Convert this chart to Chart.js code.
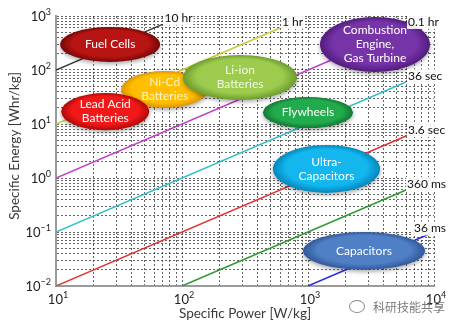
<!DOCTYPE html>
<html>
<head>
<meta charset="utf-8">
<script src="https://cdn.jsdelivr.net/npm/chart.js@4"></script>
<style>
  body { margin: 0; background: #fff; }
  #wrap { position: relative; width: 455px; height: 326px; }
  #mark { position: absolute; left: 349px; top: 298px; font: 12px "Noto Sans CJK SC", sans-serif; color: #7a7a7a; white-space: nowrap; }
  #mark i { display: inline-block; width: 14px; height: 11px; border: 1.5px solid #8a8a8a; border-radius: 50%; margin-right: 8px; vertical-align: -1px; }
</style>
</head>
<body>
<div id="wrap">
  <canvas id="ragone" width="455" height="326"></canvas>
  <div id="mark"><i></i>科研技能共享</div>
</div>
<script>
// discharge-time lines (endpoints)
const lineLabels = ['10 hr', '1 hr', '0.1 hr', '36 sec', '3.6 sec', '360 ms', '36 ms'];
const lineColors = ['#3a3a3a', '#c8c838', '#c43cc8', '#34c0c8', '#e03434', '#2c9a30', '#2a2ae6'];
const lineStartPower = [10, 10, 10, 10, 10, 100, 1000];
const lineStartEnergy = [100, 10, 1, 0.1, 0.01, 0.01, 0.01];
const lineEndPower = [70, 600, 6000, 6000, 6000, 6000, 9000];
const lineEndEnergy = [700, 600, 600, 60, 6, 0.6, 0.09];

// technology regions (ellipse bounds in W/kg and Wh/kg)
const techNames = [['Fuel Cells'], ['Ni-Cd', 'Batteries'], ['Lead Acid', 'Batteries'], ['Li-ion', 'Batteries'],
  ['Combustion', 'Engine,', 'Gas Turbine'], ['Flywheels'], ['Ultra-', 'Capacitors'], ['Capacitors']];
const techPowerMin = [10.8, 33, 11, 102, 1245, 439, 527, 912];
const techPowerMax = [67, 161, 55, 818, 9290, 2275, 3727, 8490];
const techEnergyMin = [141, 19.8, 7.7, 27.8, 91.8, 8.4, 0.53, 0.02];
const techEnergyMax = [626, 95.7, 37.5, 190, 958, 31.6, 4.08, 0.1];
const techFill = ['#b81414', '#ffbf00', '#f01818', '#9ccb4e', '#7634a8', '#22ab4c', '#14b6ee', '#4f7fc4'];
const techEdge = ['#780606', '#dc9600', '#b00808', '#6c9c2c', '#521c7e', '#127832', '#0286bd', '#31589a'];
const techText = ['#fff', '#fff3c4', '#fff', '#f2fae4', '#fff', '#fff', '#fff', '#fff'];

// axis decades
const powerDecades = [1, 2, 3, 4];
const energyDecades = [-2, -1, 0, 1, 2, 3];
const xTitle = 'Specific Power [W/kg]';
const yTitle = 'Specific Energy [Whr/kg]';

const FONT = 'Lato, "Open Sans", sans-serif';

function logTicks(scale) {
  const lo = Math.round(Math.log10(scale.min)), hi = Math.round(Math.log10(scale.max));
  const t = [];
  for (let e = lo; e < hi; e++) for (let s = 1; s < 10; s++) t.push({ value: s * Math.pow(10, e) });
  t.push({ value: Math.pow(10, hi) });
  scale.ticks = t;
}

const datasets = lineLabels.map((lab, i) => ({
  label: lab,
  data: [{ x: lineStartPower[i], y: lineStartEnergy[i] }, { x: lineEndPower[i], y: lineEndEnergy[i] }],
  borderColor: lineColors[i],
  borderWidth: 1.5,
  pointRadius: 0,
  fill: false
}));

const ragonePlugin = {
  id: 'ragone',
  afterDatasetsDraw(chart) {
    const ctx = chart.ctx, xs = chart.scales.x, ys = chart.scales.y;
    // ellipses
    techNames.forEach((lines, i) => {
      const x0 = xs.getPixelForValue(techPowerMin[i]), x1 = xs.getPixelForValue(techPowerMax[i]);
      const y0 = ys.getPixelForValue(techEnergyMax[i]), y1 = ys.getPixelForValue(techEnergyMin[i]);
      const cx = (x0 + x1) / 2, cy = (y0 + y1) / 2, rx = (x1 - x0) / 2, ry = (y1 - y0) / 2;
      ctx.save();
      ctx.shadowColor = 'rgba(0,0,0,0.35)';
      ctx.shadowBlur = 4;
      ctx.shadowOffsetY = 2;
      ctx.translate(cx, cy);
      ctx.scale(rx, ry);
      const g = ctx.createRadialGradient(0, -0.25, 0.05, 0, 0, 1);
      g.addColorStop(0, techFill[i]);
      g.addColorStop(0.75, techFill[i]);
      g.addColorStop(1, techEdge[i]);
      ctx.fillStyle = g;
      ctx.beginPath();
      ctx.arc(0, 0, 1, 0, Math.PI * 2);
      ctx.fill();
      ctx.restore();

      ctx.save();
      ctx.fillStyle = techText[i];
      ctx.font = '12px ' + FONT;
      ctx.textAlign = 'center';
      ctx.textBaseline = 'middle';
      const lh = 14;
      lines.forEach((s, k) => ctx.fillText(s, cx, cy + (k - (lines.length - 1) / 2) * lh));
      ctx.restore();
    });
    // line labels
    ctx.save();
    ctx.font = '12px ' + FONT;
    ctx.textBaseline = 'middle';
    lineLabels.forEach((lab, i) => {
      const w = ctx.measureText(lab).width;
      let px = xs.getPixelForValue(lineEndPower[i]) + 2;
      px = Math.min(px, chart.width - 9 - w);
      const py = ys.getPixelForValue(lineEndEnergy[i]) - 6;
      ctx.fillStyle = 'rgba(255,255,255,0.9)';
      ctx.fillRect(px - 1, py - 7, w + 2, 14);
      ctx.fillStyle = '#111';
      ctx.fillText(lab, px, py);
    });
    ctx.restore();
  },
  afterDraw(chart) {
    const ctx = chart.ctx, xs = chart.scales.x, ys = chart.scales.y, area = chart.chartArea;
    ctx.save();
    ctx.fillStyle = '#222';
    const drawPow = (x, y, e, align) => {
      ctx.font = '13px ' + FONT;
      const wb = ctx.measureText('10').width;
      ctx.font = '9px ' + FONT;
      const es = String(e).replace('-', '\u2212');
      const we = ctx.measureText(es).width;
      const left = align === 'right' ? x - wb - we : x - (wb + we) / 2;
      ctx.textBaseline = 'alphabetic';
      ctx.textAlign = 'left';
      ctx.font = '13px ' + FONT;
      ctx.fillText('10', left, y + 5);
      ctx.font = '9px ' + FONT;
      ctx.fillText(es, left + wb, y - 1);
    };
    energyDecades.forEach(e => drawPow(51, ys.getPixelForValue(Math.pow(10, e)), e, 'right'));
    powerDecades.forEach(e => drawPow(xs.getPixelForValue(Math.pow(10, e)) + 2, area.bottom + 13, e, 'center'));

    // axis titles
    ctx.fillStyle = '#3a3a3a';
    ctx.font = '13.5px ' + FONT;
    ctx.textAlign = 'center';
    ctx.textBaseline = 'middle';
    ctx.fillText(xTitle, (area.left + area.right) / 2, 314);
    ctx.translate(15, (area.top + area.bottom) / 2 - 5);
    ctx.rotate(-Math.PI / 2);
    ctx.fillText(yTitle, 0, 0);
    ctx.restore();
  }
};

new Chart(document.getElementById('ragone'), {
  type: 'line',
  data: { datasets },
  options: {
    responsive: false,
    devicePixelRatio: 1,
    animation: false,
    layout: { padding: { left: 0, right: 21, top: 16, bottom: 0 } },
    plugins: { legend: { display: false }, tooltip: { enabled: false } },
    scales: {
      x: {
        type: 'logarithmic',
        min: 10,
        max: 10000,
        afterBuildTicks: logTicks,
        afterFit: s => { s.height = 40; },
        ticks: { display: false, autoSkip: false },
        grid: { color: 'rgba(50,50,50,0.75)', lineWidth: 1, drawTicks: false },
        border: { color: '#9a9a9a', width: 2, dash: [2, 2] }
      },
      y: {
        type: 'logarithmic',
        min: 0.01,
        max: 1000,
        afterBuildTicks: logTicks,
        afterFit: s => { s.width = 56; },
        ticks: { display: false, autoSkip: false },
        grid: { color: 'rgba(50,50,50,0.75)', lineWidth: 1, drawTicks: false },
        border: { color: '#9a9a9a', width: 2, dash: [2, 2] }
      }
    }
  },
  plugins: [ragonePlugin]
});
</script>
</body>
</html>
